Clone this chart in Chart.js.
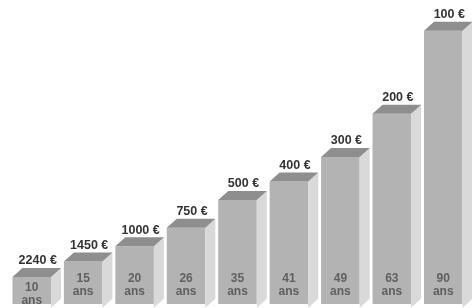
<!DOCTYPE html>
<html>
<head>
<meta charset="utf-8">
<script src="https://cdn.jsdelivr.net/npm/chart.js@4.4.0/dist/chart.umd.min.js"></script>
<style>
  html, body { margin: 0; padding: 0; background: #fff; }
  #wrap { width: 472px; height: 308px; }
</style>
</head>
<body>
<div id="wrap"><canvas id="ageChart" width="472" height="308"></canvas></div>
<script>
// valeurs
const ages = [10, 15, 20, 26, 35, 41, 49, 63, 90];
const amounts = [2240, 1450, 1000, 750, 500, 400, 300, 200, 100];
const ageLabels = ages.map(a => a + ' ans');

// faces 3D (dessus + côté) autour des barres de Chart.js
const cube3d = {
  id: 'cube3d',
  afterDatasetsDraw(chart) {
    const ctx = chart.ctx;
    const meta = chart.getDatasetMeta(0);
    const dx = 10, dy = 9;
    ctx.save();
    meta.data.forEach((bar, i) => {
      const p = bar.getProps(['x', 'y', 'base', 'width'], true);
      const left = p.x - p.width / 2, right = p.x + p.width / 2;

      // côté droit
      ctx.fillStyle = '#d9d9d9';
      ctx.beginPath();
      ctx.moveTo(right, p.y);
      ctx.lineTo(right + dx, p.y - dy);
      ctx.lineTo(right + dx, p.base - dy);
      ctx.lineTo(right, p.base);
      ctx.closePath();
      ctx.fill();

      // dessus
      ctx.fillStyle = '#8e8e8e';
      ctx.beginPath();
      ctx.moveTo(left, p.y);
      ctx.lineTo(left + dx, p.y - dy);
      ctx.lineTo(right + dx, p.y - dy);
      ctx.lineTo(right, p.y);
      ctx.closePath();
      ctx.fill();

      // montant au-dessus
      ctx.fillStyle = '#333';
      ctx.font = 'bold 12.5px "Liberation Sans", Arial, sans-serif';
      ctx.textAlign = 'center';
      ctx.textBaseline = 'middle';
      ctx.fillText(amounts[i] + ' €', p.x + 6, p.y - dy - 7);

      // âge dans la barre
      ctx.fillStyle = '#606060';
      ctx.font = 'bold 12px "Liberation Sans", Arial, sans-serif';
      const ty = Math.max(p.base - 29, p.y + 11);
      ctx.fillText(String(ages[i]), p.x, ty);
      ctx.fillText('ans', p.x, ty + 13);
    });
    ctx.restore();
  }
};

new Chart(document.getElementById('ageChart').getContext('2d'), {
  type: 'bar',
  data: {
    labels: ageLabels,
    datasets: [{
      data: ages,
      backgroundColor: '#b3b3b3',
      borderWidth: 0,
      barPercentage: 0.75,
      categoryPercentage: 1.0
    }]
  },
  options: {
    responsive: false,
    animation: false,
    layout: { padding: { left: 6, right: 3, top: 0, bottom: 4 } },
    plugins: { legend: { display: false }, tooltip: { enabled: false } },
    scales: {
      x: { display: false },
      y: { display: false, min: 1.2, max: 100 }
    }
  },
  plugins: [cube3d]
});
</script>
</body>
</html>
